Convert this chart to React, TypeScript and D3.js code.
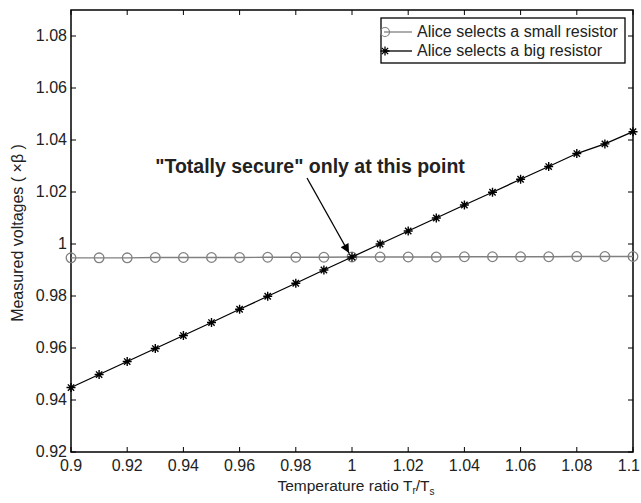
import React, { useEffect, useRef } from 'react'
import * as d3 from 'd3'

const ratios = [0.9, 0.91, 0.92, 0.93, 0.94, 0.95, 0.96, 0.97, 0.98, 0.99, 1.0, 1.01, 1.02, 1.03, 1.04, 1.05, 1.06, 1.07, 1.08, 1.09, 1.1]
const smallResistor = [0.9947, 0.9947, 0.9947, 0.9948, 0.9948, 0.9948, 0.9948, 0.9949, 0.9949, 0.9949, 0.995, 0.995, 0.995, 0.995, 0.9951, 0.9951, 0.9951, 0.9951, 0.9952, 0.9952, 0.9952]
const bigResistor = [0.9448, 0.9498, 0.9548, 0.9598, 0.9648, 0.9698, 0.9749, 0.9799, 0.9849, 0.99, 0.995, 1.0, 1.005, 1.01, 1.015, 1.0199, 1.0249, 1.0298, 1.0348, 1.0385, 1.0432]
const xTicks = [0.9, 0.92, 0.94, 0.96, 0.98, 1, 1.02, 1.04, 1.06, 1.08, 1.1]
const yTicks = [0.92, 0.94, 0.96, 0.98, 1, 1.02, 1.04, 1.06, 1.08]
const legendLabels = ['Alice selects a small resistor', 'Alice selects a big resistor']

const W = 641
const H = 503
const FONT = 'Liberation Sans, Arial, Helvetica, sans-serif'

const App = () => {
  const ref = useRef<SVGSVGElement>(null)

  useEffect(() => {
    const svg = d3.select(ref.current)
    svg.selectAll('*').remove()

    const left = 71, right = 633, top = 10, bottom = 452
    const x = d3.scaleLinear().domain([0.9, 1.1]).range([left, right])
    const y = d3.scaleLinear().domain([0.92, 1.09]).range([bottom, top])

    const g = svg.append('g')

    // box
    g.append('rect')
      .attr('x', left).attr('y', top)
      .attr('width', right - left).attr('height', bottom - top)
      .attr('fill', 'none').attr('stroke', '#000').attr('stroke-width', 1.5)

    // ticks (inward, all four sides)
    xTicks.forEach((t, i) => {
      g.append('line').attr('x1', x(t)).attr('x2', x(t)).attr('y1', bottom).attr('y2', bottom - 5).attr('stroke', '#000')
      g.append('line').attr('x1', x(t)).attr('x2', x(t)).attr('y1', top).attr('y2', top + 5).attr('stroke', '#000')
      const last = i === xTicks.length - 1
      g.append('text').attr('x', last ? 640 : x(t)).attr('y', bottom + 19)
        .attr('text-anchor', last ? 'end' : 'middle').attr('font-family', FONT).attr('font-size', 16)
        .attr('fill', '#222')
        .text(d3.format('~g')(t))
    })
    yTicks.forEach(t => {
      g.append('line').attr('x1', left).attr('x2', left + 5).attr('y1', y(t)).attr('y2', y(t)).attr('stroke', '#000')
      g.append('line').attr('x1', right).attr('x2', right - 5).attr('y1', y(t)).attr('y2', y(t)).attr('stroke', '#000')
      g.append('text').attr('x', left - 4).attr('y', y(t) + 5)
        .attr('text-anchor', 'end').attr('font-family', FONT).attr('font-size', 16)
        .attr('fill', '#222')
        .text(d3.format('~g')(t))
    })

    // axis labels
    const xl = g.append('text').attr('x', 356).attr('y', 491)
      .attr('text-anchor', 'middle').attr('font-family', FONT).attr('font-size', 15.5).attr('fill', '#222')
    xl.append('tspan').text('Temperature ratio T')
    xl.append('tspan').attr('font-size', 10).attr('dy', 3).text('r')
    xl.append('tspan').attr('dy', -3).text('/T')
    xl.append('tspan').attr('font-size', 10).attr('dy', 4).text('s')

    g.append('text').attr('transform', `translate(23, 233) rotate(-90)`)
      .attr('text-anchor', 'middle').attr('font-family', FONT).attr('font-size', 16).attr('fill', '#222')
      .text('Measured voltages ( ×β )')

    const line = d3.line<number>().x((_, i) => x(ratios[i])).y(d => y(d))

    // small resistor
    g.append('path').datum(smallResistor).attr('d', line)
      .attr('fill', 'none').attr('stroke', '#808080').attr('stroke-width', 1.3)
    g.selectAll('.circ').data(smallResistor).enter().append('circle')
      .attr('cx', (_, i) => x(ratios[i])).attr('cy', d => y(d)).attr('r', 4.8)
      .attr('fill', 'none').attr('stroke', '#808080').attr('stroke-width', 1.3)

    // big resistor
    const star = (cx: number, cy: number, s: number) => {
      const d = s * 0.7
      return `M${cx - s},${cy}L${cx + s},${cy}M${cx},${cy - s}L${cx},${cy + s}` +
        `M${cx - d},${cy - d}L${cx + d},${cy + d}M${cx - d},${cy + d}L${cx + d},${cy - d}`
    }
    g.append('path').datum(bigResistor).attr('d', line)
      .attr('fill', 'none').attr('stroke', '#000').attr('stroke-width', 1.3)
    g.selectAll('.star').data(bigResistor).enter().append('path')
      .attr('d', (d, i) => star(x(ratios[i]), y(d), 4.5))
      .attr('stroke', '#000').attr('stroke-width', 1.4)

    // annotation
    g.append('text').attr('x', 310).attr('y', 173)
      .attr('text-anchor', 'middle').attr('font-family', FONT).attr('font-size', 19.5).attr('font-weight', 'bold')
      .attr('fill', '#222')
      .text('"Totally secure" only at this point')
    svg.append('defs').append('marker').attr('id', 'arr')
      .attr('viewBox', '0 0 10 10').attr('refX', 10).attr('refY', 5)
      .attr('markerWidth', 13).attr('markerHeight', 9).attr('markerUnits', 'userSpaceOnUse')
      .attr('orient', 'auto')
      .append('path').attr('d', 'M0,0L10,5L0,10z').attr('fill', '#000')
    g.append('line').attr('x1', 307).attr('y1', 178).attr('x2', x(1) - 3).attr('y2', y(0.995) - 4)
      .attr('stroke', '#000').attr('stroke-width', 1.3).attr('marker-end', 'url(#arr)')

    // legend
    const lx = 381, ly = 18, lw = 244, lh = 45
    g.append('rect').attr('x', lx).attr('y', ly).attr('width', lw).attr('height', lh)
      .attr('fill', '#fff').attr('stroke', '#000').attr('stroke-width', 1.3)
    legendLabels.forEach((lab, i) => {
      const yy = ly + 14 + i * 19
      const col = i === 0 ? '#808080' : '#000'
      g.append('line').attr('x1', lx + 3).attr('x2', lx + 31).attr('y1', yy).attr('y2', yy)
        .attr('stroke', col).attr('stroke-width', 1.3)
      if (i === 0) {
        g.append('circle').attr('cx', lx + 4).attr('cy', yy).attr('r', 4.5)
          .attr('fill', 'none').attr('stroke', col).attr('stroke-width', 1.2)
      } else {
        g.append('path').attr('d', star(lx + 4, yy, 4.5)).attr('stroke', col).attr('stroke-width', 1.3)
      }
      g.append('text').attr('x', lx + 36).attr('y', yy + 5)
        .attr('font-family', FONT).attr('font-size', 16).attr('fill', '#222').text(lab)
    })
  }, [])

  return (
    <svg ref={ref} width={W} height={H} style={{ position: 'absolute', left: 0, top: 0, background: '#fff' }} />
  )
}

export default App
